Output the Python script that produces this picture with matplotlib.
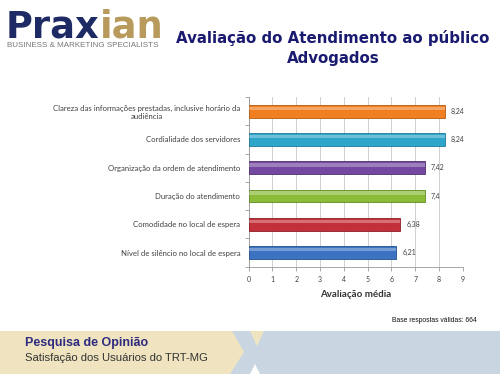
import matplotlib.pyplot as plt
from matplotlib.patches import Rectangle, Polygon
import numpy as np

# dados do grafico (de cima para baixo)
categorias = ['Clareza das informações prestadas, inclusive horário da\naudiência',
              'Cordialidade dos servidores',
              'Organização da ordem de atendimento',
              'Duração do atendimento',
              'Comodidade no local de espera',
              'Nível de silêncio no local de espera']
valores = [8.24, 8.24, 7.42, 7.4, 6.38, 6.21]
cores = ['#f07f22', '#2fa5c9', '#7448a0', '#8bbb38', '#c2313a', '#3b72c2']
bordas = ['#b85a10', '#1d7a98', '#503070', '#628a22', '#8a1f25', '#24508e']
xticks = list(range(0, 10))

W, H = 500, 374
fig = plt.figure(figsize=(5, 3.74), dpi=100)
fig.patch.set_facecolor('white')

def fx(px):
    return px / W

def fy(py):
    return 1 - py / H

# --- logo
t1 = fig.text(fx(6), fy(37.5), 'Prax', fontsize=26.5, fontweight='bold', color='#1e2a64',
              family='DejaVu Sans', va='baseline', ha='left')
fig.canvas.draw()
bb = t1.get_window_extent()
fig.text(bb.x1 / W, fy(37.5), 'ian', fontsize=26.5, fontweight='bold', color='#b79a5c',
         family='DejaVu Sans', va='baseline', ha='left')
fig.text(fx(7), fy(47), 'BUSINESS & MARKETING SPECIALISTS', fontsize=5.8, color='#777777',
         family='Liberation Sans', va='baseline', ha='left')

# --- titulo
fig.text(fx(333), fy(38), 'Avaliação do Atendimento ao público', fontsize=10.8, fontweight='bold',
         color='#1a1a70', ha='center', va='center', family='DejaVu Sans')
fig.text(fx(333), fy(58), 'Advogados', fontsize=10.8, fontweight='bold',
         color='#1a1a70', ha='center', va='center', family='DejaVu Sans')

# --- grafico
ax = fig.add_axes([fx(248.7), fy(266.7), fx(462.7) - fx(248.7), fy(97) - fy(266.7)])
y = np.arange(len(valores))[::-1]
ax.barh(y, valores, height=0.45, color=cores, edgecolor=bordas, linewidth=0.6, zorder=3)
# brilho na parte de cima das barras
ax.barh(y + 0.1, valores, height=0.12, color='white', alpha=0.3, linewidth=0, zorder=4)
for yi, v in zip(y, valores):
    ax.text(v + 0.25, yi, f'{v:g}'.replace('.', ','), fontsize=5, color='#404040',
            va='center', ha='left', family='Lato')
ax.set_xlim(0, 9)
ax.set_ylim(-0.5, len(valores) - 0.5)
ax.set_xticks(xticks)
ax.set_xticklabels([str(t) for t in xticks], fontsize=5, color='#404040', family='Lato')
ax.set_yticks(y)
ax.set_yticklabels(categorias, fontsize=5.6, color='#404040', family='Lato')
ax.set_yticks(np.arange(-0.5, len(valores)), minor=True)
ax.tick_params(axis='y', which='major', length=0, pad=6)
ax.tick_params(axis='y', which='minor', length=3, color='#999999', width=0.6)
ax.tick_params(axis='x', length=3, color='#999999', width=0.6, pad=4)
ax.grid(axis='x', color='#c8c8c8', linewidth=0.6, zorder=0)
for s in ['top', 'right']:
    ax.spines[s].set_visible(False)
for s in ['left', 'bottom']:
    ax.spines[s].set_color('#999999')
    ax.spines[s].set_linewidth(0.6)
ax.set_xlabel('Avaliação média', fontsize=7, fontweight='bold', color='#333333', family='Lato',
              labelpad=5)
for lab in ax.get_yticklabels():
    lab.set_multialignment('center')

fig.text(fx(392), fy(320), 'Base respostas válidas: 664', fontsize=4.9, color='#111111',
         family='Liberation Sans', va='center', ha='left')

# --- rodape
bg = fig.add_axes([0, 0, 1, 1], zorder=-1)
bg.set_xlim(0, W)
bg.set_ylim(H, 0)
bg.axis('off')
bg.add_patch(Rectangle((0, 331), W, 43, color='#c9d6e2', lw=0))
bg.add_patch(Polygon([(0, 331), (232, 331), (244, 352), (230, 374), (0, 374)], closed=True,
                     color='#efe4bf', lw=0))
bg.add_patch(Polygon([(250, 331), (264, 331), (257, 346)], closed=True, color='#efe4bf', lw=0))
bg.add_patch(Polygon([(250, 374), (260, 374), (255, 364)], closed=True, color='white', lw=0))

fig.text(fx(25), fy(343), 'Pesquisa de Opinião', fontsize=9, fontweight='bold', color='#2e2a80',
         family='Liberation Sans', va='center', ha='left')
fig.text(fx(25), fy(358), 'Satisfação dos Usuários do TRT-MG', fontsize=8.1, color='#333333',
         family='Liberation Sans', va='center', ha='left')

fig.savefig('out.png', dpi=100, facecolor='white')
